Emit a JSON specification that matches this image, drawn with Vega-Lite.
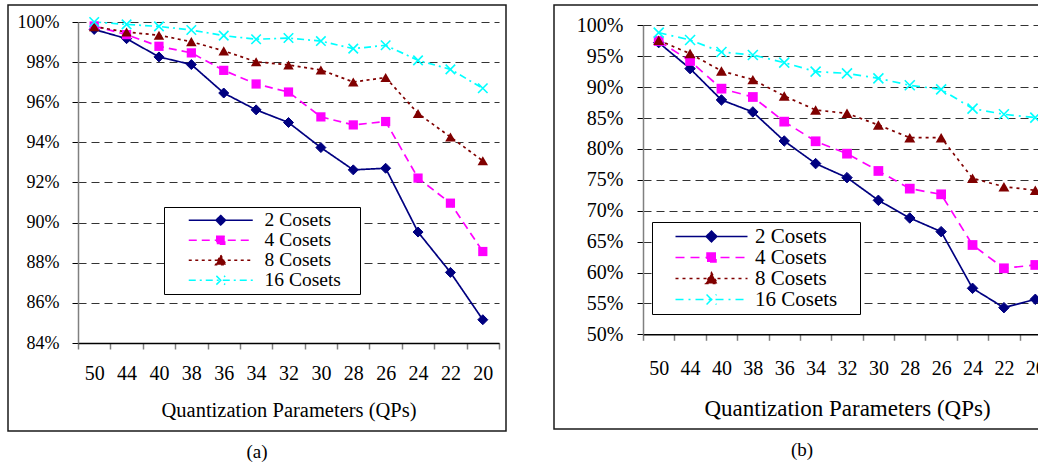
{
  "$schema": "https://vega.github.io/schema/vega-lite/v6.json",
  "background": "white",
  "padding": {"left": 7, "top": 4, "right": 0, "bottom": 0},
  "spacing": 46,
  "config": {
    "font": "'Liberation Serif', 'DejaVu Serif', serif",
    "view": {"stroke": "#1a1a1a", "strokeWidth": 1.5},
    "axis": {"labelFont": "'Liberation Serif', 'DejaVu Serif', serif", "titleFont": "'Liberation Serif', 'DejaVu Serif', serif", "labelColor": "black", "titleColor": "black", "titleFontWeight": "normal"},
    "legend": {"labelFont": "'Liberation Serif', 'DejaVu Serif', serif", "titleFont": "'Liberation Serif', 'DejaVu Serif', serif", "labelColor": "black", "symbolStrokeWidth": 1.5},
    "title": {"font": "'Liberation Serif', 'DejaVu Serif', serif", "fontWeight": "normal", "color": "black"}
  },
  "datasets": {
    "a": [
      {"qp": "50", "series": "2 Cosets", "v": 0.9963}, {"qp": "44", "series": "2 Cosets", "v": 0.9917}, {"qp": "40", "series": "2 Cosets", "v": 0.9826}, {"qp": "38", "series": "2 Cosets", "v": 0.9788}, {"qp": "36", "series": "2 Cosets", "v": 0.9646}, {"qp": "34", "series": "2 Cosets", "v": 0.9562}, {"qp": "32", "series": "2 Cosets", "v": 0.9499}, {"qp": "30", "series": "2 Cosets", "v": 0.9374}, {"qp": "28", "series": "2 Cosets", "v": 0.9263}, {"qp": "26", "series": "2 Cosets", "v": 0.9271}, {"qp": "24", "series": "2 Cosets", "v": 0.8953}, {"qp": "22", "series": "2 Cosets", "v": 0.8752}, {"qp": "20", "series": "2 Cosets", "v": 0.8516},
      {"qp": "50", "series": "4 Cosets", "v": 0.998}, {"qp": "44", "series": "4 Cosets", "v": 0.9937}, {"qp": "40", "series": "4 Cosets", "v": 0.9879}, {"qp": "38", "series": "4 Cosets", "v": 0.9846}, {"qp": "36", "series": "4 Cosets", "v": 0.9759}, {"qp": "34", "series": "4 Cosets", "v": 0.9691}, {"qp": "32", "series": "4 Cosets", "v": 0.9651}, {"qp": "30", "series": "4 Cosets", "v": 0.9527}, {"qp": "28", "series": "4 Cosets", "v": 0.9487}, {"qp": "26", "series": "4 Cosets", "v": 0.9504}, {"qp": "24", "series": "4 Cosets", "v": 0.9222}, {"qp": "22", "series": "4 Cosets", "v": 0.9097}, {"qp": "20", "series": "4 Cosets", "v": 0.8856},
      {"qp": "50", "series": "8 Cosets", "v": 0.9977}, {"qp": "44", "series": "8 Cosets", "v": 0.995}, {"qp": "40", "series": "8 Cosets", "v": 0.9934}, {"qp": "38", "series": "8 Cosets", "v": 0.9902}, {"qp": "36", "series": "8 Cosets", "v": 0.9856}, {"qp": "34", "series": "8 Cosets", "v": 0.9802}, {"qp": "32", "series": "8 Cosets", "v": 0.9786}, {"qp": "30", "series": "8 Cosets", "v": 0.9761}, {"qp": "28", "series": "8 Cosets", "v": 0.9701}, {"qp": "26", "series": "8 Cosets", "v": 0.9723}, {"qp": "24", "series": "8 Cosets", "v": 0.9544}, {"qp": "22", "series": "8 Cosets", "v": 0.9427}, {"qp": "20", "series": "8 Cosets", "v": 0.9308},
      {"qp": "50", "series": "16 Cosets", "v": 1.0}, {"qp": "44", "series": "16 Cosets", "v": 0.9988}, {"qp": "40", "series": "16 Cosets", "v": 0.9978}, {"qp": "38", "series": "16 Cosets", "v": 0.996}, {"qp": "36", "series": "16 Cosets", "v": 0.9932}, {"qp": "34", "series": "16 Cosets", "v": 0.9914}, {"qp": "32", "series": "16 Cosets", "v": 0.992}, {"qp": "30", "series": "16 Cosets", "v": 0.9905}, {"qp": "28", "series": "16 Cosets", "v": 0.9867}, {"qp": "26", "series": "16 Cosets", "v": 0.9884}, {"qp": "24", "series": "16 Cosets", "v": 0.9809}, {"qp": "22", "series": "16 Cosets", "v": 0.9764}, {"qp": "20", "series": "16 Cosets", "v": 0.967}
    ],
    "b": [
      {"qp": "50", "series": "2 Cosets", "v": 0.972}, {"qp": "44", "series": "2 Cosets", "v": 0.9299}, {"qp": "40", "series": "2 Cosets", "v": 0.8792}, {"qp": "38", "series": "2 Cosets", "v": 0.8598}, {"qp": "36", "series": "2 Cosets", "v": 0.8128}, {"qp": "34", "series": "2 Cosets", "v": 0.7762}, {"qp": "32", "series": "2 Cosets", "v": 0.7535}, {"qp": "30", "series": "2 Cosets", "v": 0.7168}, {"qp": "28", "series": "2 Cosets", "v": 0.6882}, {"qp": "26", "series": "2 Cosets", "v": 0.6661}, {"qp": "24", "series": "2 Cosets", "v": 0.5744}, {"qp": "22", "series": "2 Cosets", "v": 0.5431}, {"qp": "20", "series": "2 Cosets", "v": 0.5566},
      {"qp": "50", "series": "4 Cosets", "v": 0.9746}, {"qp": "44", "series": "4 Cosets", "v": 0.9423}, {"qp": "40", "series": "4 Cosets", "v": 0.8975}, {"qp": "38", "series": "4 Cosets", "v": 0.884}, {"qp": "36", "series": "4 Cosets", "v": 0.8441}, {"qp": "34", "series": "4 Cosets", "v": 0.8123}, {"qp": "32", "series": "4 Cosets", "v": 0.7923}, {"qp": "30", "series": "4 Cosets", "v": 0.7643}, {"qp": "28", "series": "4 Cosets", "v": 0.7357}, {"qp": "26", "series": "4 Cosets", "v": 0.7265}, {"qp": "24", "series": "4 Cosets", "v": 0.6445}, {"qp": "22", "series": "4 Cosets", "v": 0.6068}, {"qp": "20", "series": "4 Cosets", "v": 0.6122},
      {"qp": "50", "series": "8 Cosets", "v": 0.9757}, {"qp": "44", "series": "8 Cosets", "v": 0.9542}, {"qp": "40", "series": "8 Cosets", "v": 0.9261}, {"qp": "38", "series": "8 Cosets", "v": 0.9121}, {"qp": "36", "series": "8 Cosets", "v": 0.8857}, {"qp": "34", "series": "8 Cosets", "v": 0.863}, {"qp": "32", "series": "8 Cosets", "v": 0.8576}, {"qp": "30", "series": "8 Cosets", "v": 0.8387}, {"qp": "28", "series": "8 Cosets", "v": 0.8182}, {"qp": "26", "series": "8 Cosets", "v": 0.8182}, {"qp": "24", "series": "8 Cosets", "v": 0.7524}, {"qp": "22", "series": "8 Cosets", "v": 0.7389}, {"qp": "20", "series": "8 Cosets", "v": 0.733},
      {"qp": "50", "series": "16 Cosets", "v": 0.9881}, {"qp": "44", "series": "16 Cosets", "v": 0.9763}, {"qp": "40", "series": "16 Cosets", "v": 0.9568}, {"qp": "38", "series": "16 Cosets", "v": 0.952}, {"qp": "36", "series": "16 Cosets", "v": 0.9396}, {"qp": "34", "series": "16 Cosets", "v": 0.925}, {"qp": "32", "series": "16 Cosets", "v": 0.9223}, {"qp": "30", "series": "16 Cosets", "v": 0.9142}, {"qp": "28", "series": "16 Cosets", "v": 0.9029}, {"qp": "26", "series": "16 Cosets", "v": 0.8964}, {"qp": "24", "series": "16 Cosets", "v": 0.8652}, {"qp": "22", "series": "16 Cosets", "v": 0.856}, {"qp": "20", "series": "16 Cosets", "v": 0.8506}
    ]
  },
  "hconcat": [
    {
      "width": 498,
      "height": 426,
      "data": {"name": "a"},
      "title": {"text": "(a)", "orient": "bottom", "anchor": "middle", "frame": "bounds", "fontSize": 19, "offset": 12},
      "encoding": {
        "x": {"field": "qp", "type": "ordinal", "sort": ["50", "44", "40", "38", "36", "34", "32", "30", "28", "26", "24", "22", "20"],
          "scale": {"paddingInner": 0, "paddingOuter": 0, "range": [70, 491]},
          "axis": {"title": "Quantization Parameters (QPs)", "offset": -88, "labelAngle": 0, "tickBand": "extent", "tickSize": 6, "labelPadding": 14, "titlePadding": 17, "labelFontSize": 20, "titleFontSize": 20.5, "domainColor": "black", "domainWidth": 1.5, "tickColor": "#808080", "tickWidth": 1.5, "grid": false}},
        "y": {"field": "v", "type": "quantitative",
          "scale": {"domain": [0.84, 1.0], "nice": false, "zero": false, "range": [338, 17]},
          "axis": {"title": null, "offset": -70, "format": ".0%", "values": [0.84, 0.86, 0.88, 0.9, 0.92, 0.94, 0.96, 0.98, 1.0], "tickSize": 6, "labelPadding": 13, "labelFontSize": 18, "grid": true, "gridDash": [8, 5], "gridColor": "#333333", "gridWidth": 1, "domainColor": "#808080", "domainWidth": 1.5, "tickColor": "black", "tickWidth": 1}}
      },
      "layer": [
        {"mark": {"type": "line", "strokeWidth": 1.7},
          "encoding": {
            "strokeDash": {"field": "series", "type": "nominal", "scale": {"domain": ["2 Cosets", "4 Cosets", "8 Cosets", "16 Cosets"], "range": [[1, 0], [8, 5], [3, 3.5], [7, 4, 2, 4]]}, "legend": null},
            "color": {"field": "series", "type": "nominal",
              "scale": {"domain": ["2 Cosets", "4 Cosets", "8 Cosets", "16 Cosets"], "range": ["#000080", "#FF00FF", "#800000", "#00FFFF"]},
              "legend": {
                "orient": "none", "legendX": 156, "legendY": 202,
                "title": "\u00a0", "titleOrient": "right", "titlePadding": 15, "titleFontSize": 19,
                "strokeColor": "black", "fillColor": "white", "padding": 4,
                "symbolSize": 256, "symbolOffset": 43, "labelOffset": 34, "labelFontSize": 19.5, "rowPadding": 0, "clipHeight": 18.5,
                "symbolType": "M-4,0H4",
                "encode": {"symbols": {"update": {
                  "shape": {"signal": "datum.value === '2 Cosets' ? 'M-4,0H4M-0.6,0L0,-0.6L0.6,0L0,0.6Z' : datum.value === '4 Cosets' ? 'M-4,0H4M-0.5,-0.5H0.5V0.5H-0.5Z' : datum.value === '8 Cosets' ? 'M-4,0H4M0,-0.65L0.65,0.55H-0.65Z' : 'M-4,0H4M-0.55,-0.55L0.55,0.55M-0.55,0.55L0.55,-0.55'"},
                  "strokeDash": {"signal": "datum.value === '2 Cosets' ? [1,0] : datum.value === '4 Cosets' ? [8,5] : datum.value === '8 Cosets' ? [3,3.5] : [7,4,2,4]"},
                  "fill": {"signal": "datum.value === '2 Cosets' ? '#000080' : datum.value === '4 Cosets' ? '#FF00FF' : datum.value === '8 Cosets' ? '#800000' : '#00FFFF'"},
                  "stroke": {"signal": "datum.value === '2 Cosets' ? '#000080' : datum.value === '4 Cosets' ? '#FF00FF' : datum.value === '8 Cosets' ? '#800000' : '#00FFFF'"},
                  "strokeWidth": {"value": 1.5},
                  "opacity": {"value": 1}
                }}}
              }}}},
        {"transform": [{"filter": "datum.series === '2 Cosets'"}], "mark": {"type": "point", "shape": "diamond", "filled": true, "size": 100, "color": "#000080", "stroke": "#000080", "strokeWidth": 1, "opacity": 1}},
        {"transform": [{"filter": "datum.series === '4 Cosets'"}], "mark": {"type": "point", "shape": "square", "filled": true, "size": 85, "color": "#FF00FF", "opacity": 1}},
        {"transform": [{"filter": "datum.series === '8 Cosets'"}], "mark": {"type": "point", "shape": "triangle-up", "filled": true, "size": 110, "color": "#800000", "opacity": 1}},
        {"transform": [{"filter": "datum.series === '16 Cosets'"}], "mark": {"type": "point", "shape": "M-1,-1L1,1M-1,1L1,-1", "filled": false, "size": 90, "color": "#00FFFF", "strokeWidth": 1.6, "opacity": 1}}
      ]
    },
    {
      "width": 504,
      "height": 424,
      "data": {"name": "b"},
      "title": {"text": "(b)", "orient": "bottom", "anchor": "middle", "frame": "bounds", "fontSize": 19, "offset": 12, "dx": -4},
      "encoding": {
        "x": {"field": "qp", "type": "ordinal", "sort": ["50", "44", "40", "38", "36", "34", "32", "30", "28", "26", "24", "22", "20"],
          "scale": {"paddingInner": 0, "paddingOuter": 0, "range": [89, 497]},
          "axis": {"title": "Quantization Parameters (QPs)", "offset": -94.7, "labelAngle": 0, "tickBand": "extent", "tickSize": 6, "labelPadding": 18, "titlePadding": 19, "labelFontSize": 20, "titleFontSize": 23, "domainColor": "black", "domainWidth": 1.5, "tickColor": "#808080", "tickWidth": 1.5, "grid": false}},
        "y": {"field": "v", "type": "quantitative",
          "scale": {"domain": [0.5, 1.0], "nice": false, "zero": false, "range": [329.3, 20.3]},
          "axis": {"title": null, "offset": -89, "format": ".0%", "values": [0.5, 0.55, 0.6, 0.65, 0.7, 0.75, 0.8, 0.85, 0.9, 0.95, 1.0], "tickSize": 6, "labelPadding": 14, "labelFontSize": 20, "grid": true, "gridDash": [8, 5], "gridColor": "#333333", "gridWidth": 1, "domainColor": "#808080", "domainWidth": 1.5, "tickColor": "black", "tickWidth": 1}}
      },
      "layer": [
        {"mark": {"type": "line", "strokeWidth": 1.7},
          "encoding": {
            "strokeDash": {"field": "series", "type": "nominal", "scale": {"domain": ["2 Cosets", "4 Cosets", "8 Cosets", "16 Cosets"], "range": [[1, 0], [9, 6], [3, 4], [8, 5, 2, 5]]}, "legend": null},
            "color": {"field": "series", "type": "nominal",
              "scale": {"domain": ["2 Cosets", "4 Cosets", "8 Cosets", "16 Cosets"], "range": ["#000080", "#FF00FF", "#800000", "#00FFFF"]},
              "legend": {
                "orient": "none", "legendX": 98, "legendY": 217,
                "title": "\u00a0", "titleOrient": "right", "titlePadding": 19, "titleFontSize": 21,
                "strokeColor": "black", "fillColor": "white", "padding": 4,
                "symbolSize": 324, "symbolOffset": 45, "labelOffset": 33, "labelFontSize": 21, "rowPadding": -3.5,
                "symbolType": "M-4,0H4",
                "encode": {"symbols": {"update": {
                  "shape": {"signal": "datum.value === '2 Cosets' ? 'M-4,0H4M-0.6,0L0,-0.6L0.6,0L0,0.6Z' : datum.value === '4 Cosets' ? 'M-4,0H4M-0.5,-0.5H0.5V0.5H-0.5Z' : datum.value === '8 Cosets' ? 'M-4,0H4M0,-0.65L0.65,0.55H-0.65Z' : 'M-4,0H4M-0.55,-0.55L0.55,0.55M-0.55,0.55L0.55,-0.55'"},
                  "strokeDash": {"signal": "datum.value === '2 Cosets' ? [1,0] : datum.value === '4 Cosets' ? [9,6] : datum.value === '8 Cosets' ? [3,4] : [8,5,2,5]"},
                  "fill": {"signal": "datum.value === '2 Cosets' ? '#000080' : datum.value === '4 Cosets' ? '#FF00FF' : datum.value === '8 Cosets' ? '#800000' : '#00FFFF'"},
                  "stroke": {"signal": "datum.value === '2 Cosets' ? '#000080' : datum.value === '4 Cosets' ? '#FF00FF' : datum.value === '8 Cosets' ? '#800000' : '#00FFFF'"},
                  "strokeWidth": {"value": 1.5},
                  "opacity": {"value": 1}
                }}}
              }}}},
        {"transform": [{"filter": "datum.series === '2 Cosets'"}], "mark": {"type": "point", "shape": "diamond", "filled": true, "size": 110, "color": "#000080", "stroke": "#000080", "strokeWidth": 1, "opacity": 1}},
        {"transform": [{"filter": "datum.series === '4 Cosets'"}], "mark": {"type": "point", "shape": "square", "filled": true, "size": 95, "color": "#FF00FF", "opacity": 1}},
        {"transform": [{"filter": "datum.series === '8 Cosets'"}], "mark": {"type": "point", "shape": "triangle-up", "filled": true, "size": 120, "color": "#800000", "opacity": 1}},
        {"transform": [{"filter": "datum.series === '16 Cosets'"}], "mark": {"type": "point", "shape": "M-1,-1L1,1M-1,1L1,-1", "filled": false, "size": 100, "color": "#00FFFF", "strokeWidth": 1.6, "opacity": 1}}
      ]
    }
  ],
  "resolve": {"scale": {"color": "independent", "strokeDash": "independent"}, "legend": {"color": "independent"}}
}
